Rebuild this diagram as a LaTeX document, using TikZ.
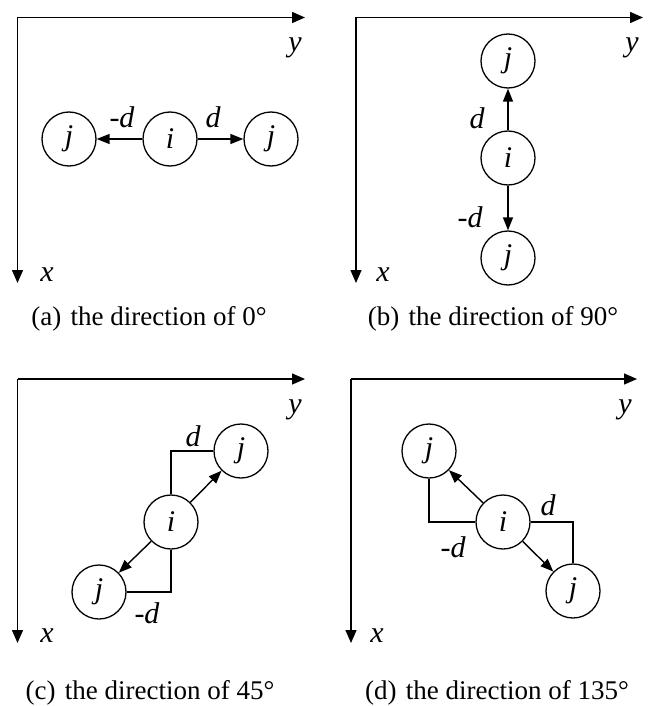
\documentclass[tikz,border=0pt]{standalone}
\usepackage{fontspec}
\setmainfont{Liberation Serif}
\usetikzlibrary{arrows.meta}
\begin{document}
\begin{tikzpicture}[x=1pt,y=-1pt,
  lbl/.style={font=\fontsize{30}{34}\selectfont\itshape, inner sep=0pt},
  capt/.style={font=\fontsize{27}{32}\selectfont, inner sep=0pt, anchor=base},
  nd/.style={circle, draw, line width=1.3pt, minimum size=54pt, inner sep=0pt,
             font=\fontsize{30}{34}\selectfont\itshape},
  axis/.style={line width=1.4pt, -{Triangle[length=13pt,width=11pt]}},
  arr/.style={line width=1.4pt, -{Triangle[length=13pt,width=10pt]}},
  brk/.style={line width=1.3pt}
]
\useasboundingbox (0,0) rectangle (662,706);

% ---------- (a) ----------
\coordinate (oa) at (17.5,17.5);
\coordinate (yae) at (305,17.5);
\coordinate (xae) at (17.5,283);
\draw[axis] (oa) -- (yae);
\draw[axis] (oa) -- (xae);
\node[lbl] (ya) at (295,48) {y};
\node[lbl] (xa) at (47,275) {x};
\node[nd] (ja1) at (69,139) {j};
\node[nd] (ia) at (170,139) {i};
\node[nd] (ja2) at (271,139) {j};
\draw[arr] (ia) -- (ja1);
\draw[arr] (ia) -- (ja2);
\node[lbl] (mda) at (122,117) {\upshape-\itshape d};
\node[lbl] (pda) at (213,117) {d};
\node[capt] (capa) at (149,325) {(a)\hspace{0.35em}the direction of 0°};

% ---------- (b) ----------
\coordinate (ob) at (356,17.5);
\coordinate (ybe) at (643,17.5);
\coordinate (xbe) at (356,283);
\draw[axis] (ob) -- (ybe);
\draw[axis] (ob) -- (xbe);
\node[lbl] (yb) at (632,48) {y};
\node[lbl] (xb) at (383,275) {x};
\node[nd] (jb1) at (508,61) {j};
\node[nd] (ib) at (508,158) {i};
\node[nd] (jb2) at (508,258) {j};
\draw[arr] (ib) -- (jb1);
\draw[arr] (ib) -- (jb2);
\node[lbl] (pdb) at (477,118) {d};
\node[lbl] (mdb) at (470,217) {\upshape-\itshape d};
\node[capt] (capb) at (493,325) {(b)\hspace{0.35em}the direction of 90°};

% ---------- (c) ----------
\coordinate (oc) at (17.5,379);
\coordinate (yce) at (305,379);
\coordinate (xce) at (17.5,643);
\draw[axis] (oc) -- (yce);
\draw[axis] (oc) -- (xce);
\node[lbl] (yc) at (295,410) {y};
\node[lbl] (xc) at (47,636) {x};
\node[nd] (jc1) at (241,451) {j};
\node[nd] (ic) at (171,522) {i};
\node[nd] (jc2) at (99,592) {j};
\draw[brk] (ic.north) |- (jc1.west);
\draw[brk] (ic.south) |- (jc2.east);
\draw[arr] (ic) -- (jc1);
\draw[arr] (ic) -- (jc2);
\node[lbl] (pdc) at (193,436) {d};
\node[lbl] (mdc) at (147,613) {\upshape-\itshape d};
\node[capt] (capc) at (150,699) {(c)\hspace{0.35em}the direction of 45°};

% ---------- (d) ----------
\coordinate (od) at (351,379);
\coordinate (yde) at (637,379);
\coordinate (xde) at (351,643);
\draw[axis] (od) -- (yde);
\draw[axis] (od) -- (xde);
\node[lbl] (yd) at (625,410) {y};
\node[lbl] (xd) at (377,636) {x};
\node[nd] (jd1) at (429,451) {j};
\node[nd] (id) at (503,522) {i};
\node[nd] (jd2) at (573,591) {j};
\draw[brk] (jd1.south) |- (id.west);
\draw[brk] (id.east) -| (jd2.north);
\draw[arr] (id) -- (jd1);
\draw[arr] (id) -- (jd2);
\node[lbl] (pdd) at (548,505) {d};
\node[lbl] (mdd) at (453,547) {\upshape-\itshape d};
\node[capt] (capd) at (497,699) {(d)\hspace{0.35em}the direction of 135°};
\end{tikzpicture}
\end{document}
